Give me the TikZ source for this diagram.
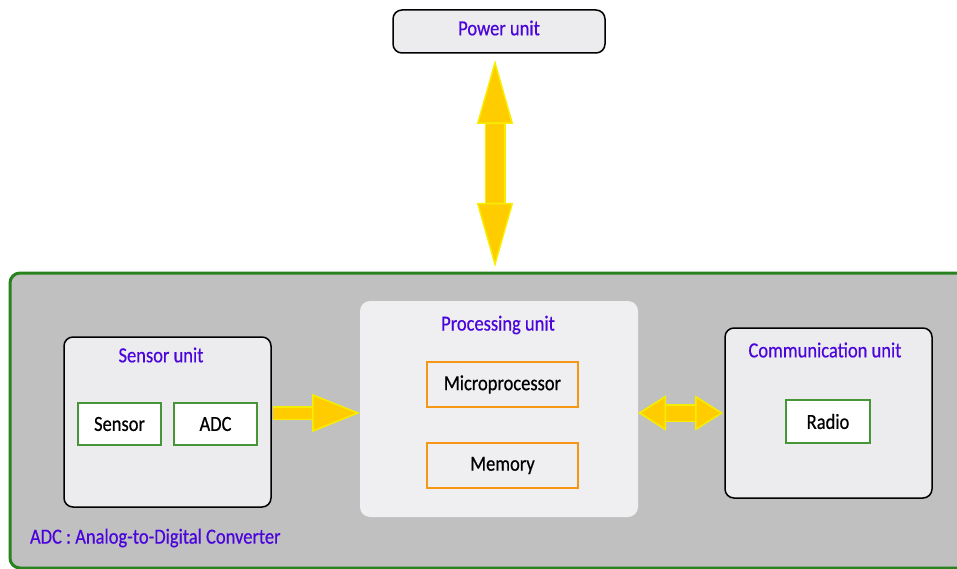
\documentclass[tikz,border=0pt]{standalone}
\usepackage{fontspec}
\setmainfont{Carlito}[FakeStretch=0.86,FakeBold=0.5]
\usetikzlibrary{arrows.meta,calc}
\definecolor{titleblue}{RGB}{75,5,220}
\definecolor{unitgray}{RGB}{236,236,238}
\definecolor{procgray}{RGB}{239,239,241}
\definecolor{wsngray}{RGB}{192,192,192}
\definecolor{wsngreen}{RGB}{40,130,30}
\definecolor{partgreen}{RGB}{70,150,55}
\definecolor{partorange}{RGB}{245,150,20}
\definecolor{arrowfill}{RGB}{255,204,0}
\definecolor{arrowline}{RGB}{245,238,0}
\begin{document}
\begin{tikzpicture}[x=1pt,y=-1pt,inner sep=0pt,outer sep=0pt,
font=\fontsize{21.5}{24}\selectfont,
unitbox/.style={draw=black,line width=1.5pt,fill=unitgray,rounded corners=9pt},
partbox/.style={draw=partgreen,line width=2pt,fill=white},
procpart/.style={draw=partorange,line width=2pt,fill=procgray},
unittitle/.style={text=titleblue},
onearrow/.style={draw=arrowfill,line width=11pt,
  -{Triangle[length=48pt,width=38pt,line width'=1.5pt,color=arrowline,fill=arrowfill]},
  preaction={draw=arrowline,line width=14pt,-,shorten >=40pt}},
twoarrow/.style={draw=arrowfill,line width=15pt,
  {Triangle[length=28pt,width=35pt,line width'=1.5pt,color=arrowline,fill=arrowfill]}-{Triangle[length=28pt,width=35pt,line width'=1.5pt,color=arrowline,fill=arrowfill]},
  preaction={draw=arrowline,line width=18pt,-,shorten >=22pt,shorten <=22pt}},
powerarrow/.style={draw=arrowfill,line width=18pt,
  {Triangle[length=64pt,width=36pt,line width'=1.5pt,color=arrowline,fill=arrowfill]}-{Triangle[length=64pt,width=36pt,line width'=1.5pt,color=arrowline,fill=arrowfill]},
  preaction={draw=arrowline,line width=21pt,-,shorten >=56pt,shorten <=56pt}}]
\useasboundingbox (0,0) rectangle (957,569);
% power supply on top
\draw (499,31.5) node[unitbox,minimum width=212pt,minimum height=43pt] (power) {};
\draw (499,28) node[unittitle] (powertitle) {Power unit};
% sensor node
\draw (500,420.5) node[draw=wsngreen,line width=3pt,fill=wsngray,rounded corners=10pt,minimum width=980pt,minimum height=295pt] (wsn) {};
\draw (167.5,422) node[unitbox,minimum width=207pt,minimum height=170pt] (sensorunit) {};
\draw (161,355) node[unittitle] (sensortitle) {Sensor unit};
\draw (119.5,424) node[partbox,minimum width=83pt,minimum height=42pt] (sensor) {Sensor};
\draw (215.5,424) node[partbox,minimum width=83pt,minimum height=42pt] (adc) {ADC};
\draw (499,409) node[fill=procgray,rounded corners=10pt,minimum width=278pt,minimum height=216pt] (proc) {};
\draw (498,325) node[unittitle] (proctitle) {Processing unit};
\draw (502.5,384.5) node[procpart,minimum width=151pt,minimum height=45pt] (micro) {Microprocessor};
\draw (502.5,465.5) node[procpart,minimum width=151pt,minimum height=45pt] (memory) {Memory};
\draw (828.5,413) node[unitbox,minimum width=207pt,minimum height=170pt] (comm) {};
\draw (825,350) node[unittitle] (commtitle) {Communication unit};
\draw (828,421.5) node[partbox,minimum width=84pt,minimum height=43pt] (radio) {Radio};
\draw (30,538) node[unittitle,anchor=west] (legend) {ADC : Analog-to-Digital Converter};
% fat arrows
\draw[powerarrow] ($(power.south)+(-4,7)$) -- ($(power.south |- wsn.north)+(-4,-6)$);
\draw[onearrow] ($(sensorunit.east |- proc.west)+(2,4)$) -- ($(proc.west)+(0,4)$);
\draw[twoarrow] (proc.east |- comm.west) -- ($(comm.west)+(-2,0)$);
\end{tikzpicture}
\end{document}
